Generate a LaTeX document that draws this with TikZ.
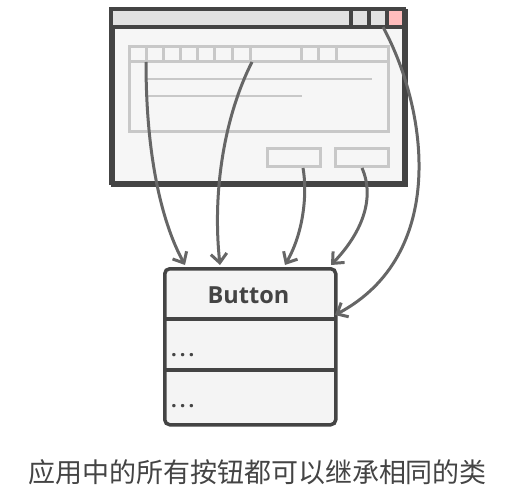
\documentclass[tikz,border=0pt]{standalone}
\usepackage{fontspec}
\setmainfont{Open Sans}
\newfontfamily\cjk{Noto Sans CJK SC}
\usetikzlibrary{arrows.meta,calc}
\definecolor{frame}{HTML}{444444}
\definecolor{winbody}{HTML}{F6F6F6}
\definecolor{titlebar}{HTML}{E2E2E2}
\definecolor{widget}{HTML}{C8C8C8}
\definecolor{closebtn}{HTML}{FFBDBD}
\definecolor{link}{HTML}{666666}
\definecolor{classfill}{HTML}{F4F4F4}
\tikzset{
  winframe/.style={draw=frame, line width=3.5pt, fill=winbody, inner sep=0pt, anchor=north west},
  widgetbox/.style={draw=widget, line width=3pt, inner sep=0pt, anchor=north west},
  classbox/.style={draw=frame, line width=3.5pt, fill=classfill, rounded corners=5pt, inner sep=0pt, anchor=north west},
  usage/.style={draw=link, line width=3pt, -{Straight Barb[length=9pt,width=16pt]}},
  ellipsis/.style={text=frame, font=\bfseries\fontsize{20pt}{22pt}\selectfont, anchor=base west, inner sep=0pt},
}
\begin{document}
\begin{tikzpicture}[x=1pt, y=-1pt]
\useasboundingbox (0,0) rectangle (514,500);

% application window
\node[winframe, minimum width=293pt, minimum height=174pt] (win) at (111,9) {};
\fill[titlebar] (112.5,10.5) rectangle (402.5,27);
\fill[closebtn] (387,10.5) rectangle (402.5,27);
\foreach \xx in {351,369,387} \draw[frame, line width=3.5pt] (\xx,9) -- (\xx,27);
\draw[frame, line width=3.5pt] (111,27) -- (404,27);
\draw[frame, line width=3.5pt] (111,9) rectangle (404,183);
\coordinate (minbtn) at (383,27);

% tab panel
\node[widgetbox, minimum width=259pt, minimum height=85pt] (panel) at (128,45) {};
\draw[widget, line width=3pt] (128,62) -- (387,62);
\foreach \xx in {146,163,180,197,214,232,250,301,318,336}
  \draw[widget, line width=3pt] (\xx,45) -- (\xx,62);
\draw[widget, line width=2.5pt] (145,79) -- (372,79);
\draw[widget, line width=1.8pt] (145,96) -- (302,96);
\coordinate (tabA) at (146,62);
\coordinate (tabB) at (252,62);

% dialog buttons
\node[widgetbox, minimum width=53pt, minimum height=18pt] (okbtn) at (266,147) {};
\node[widgetbox, minimum width=53pt, minimum height=18pt] (cancelbtn) at (334,147) {};

% Button class
\node[classbox, minimum width=171pt, minimum height=156pt] (cls) at (163,267) {};
\draw[frame, line width=3.5pt] (163,319) -- (334,319);
\draw[frame, line width=3.5pt] (163,370) -- (334,370);
\node[text=frame, font=\bfseries\fontsize{23.5pt}{27pt}\selectfont] (clsname) at (248.5,295) {Button};
\node[ellipsis] (fields) at (171,356) {.\hspace{3pt}.\hspace{3pt}.};
\node[ellipsis] (methods) at (171,407) {.\hspace{3pt}.\hspace{3pt}.};
\coordinate (inA) at (185,265);
\coordinate (inB) at (220,265);
\coordinate (inC) at (285,265);
\coordinate (inD) at (331,265);
\coordinate (inE) at (335,315);

% usage links
\draw[usage] (tabA) .. controls (146,160) and (163,225) .. (inA);
\draw[usage] (tabB) .. controls (225,115) and (212,190) .. (inB);
\draw[usage] ($(okbtn.south)+(9,0)$) .. controls (307,190) and (305,230) .. (inC);
\draw[usage] (cancelbtn.south) .. controls (376,200) and (360,235) .. (inD);
\draw[usage] (minbtn) .. controls (428,110) and (448,255) .. (inE);

% caption
\node[text=frame, font=\cjk\fontsize{27pt}{30pt}\selectfont] (caption) at (257.5,472) {应用中的所有按钮都可以继承相同的类};
\end{tikzpicture}
\end{document}
